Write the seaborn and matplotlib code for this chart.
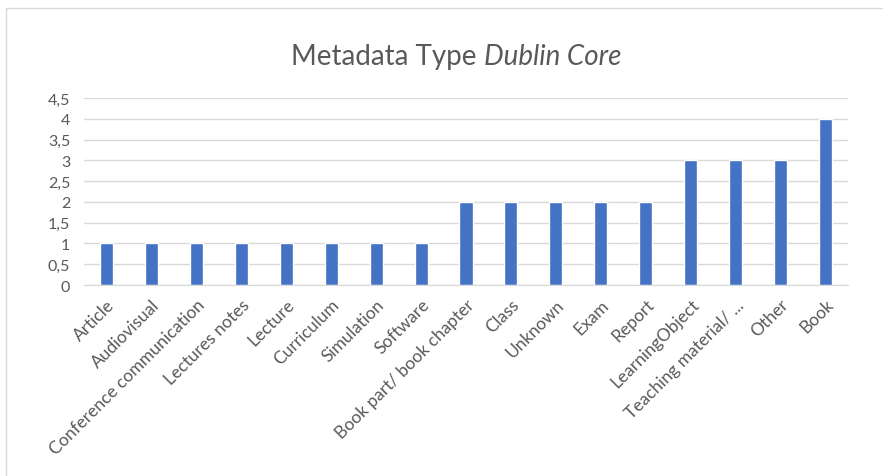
import matplotlib
matplotlib.use("Agg")
import matplotlib.pyplot as plt
import seaborn as sns
from matplotlib.patches import Rectangle

categories = [
    "Article", "Audiovisual", "Conference communication", "Lectures notes",
    "Lecture", "Curriculum", "Simulation", "Software", "Book part/ book chapter",
    "Class", "Unknown", "Exam", "Report", "LearningObject",
    "Teaching material/ ...", "Other", "Book",
]
values = [1, 1, 1, 1, 1, 1, 1, 1, 2, 2, 2, 2, 2, 3, 3, 3, 4]
y_ticks = [0, 0.5, 1, 1.5, 2, 2.5, 3, 3.5, 4, 4.5]
y_labels = ["0", "0,5", "1", "1,5", "2", "2,5", "3", "3,5", "4", "4,5"]

sns.set_style("white")
plt.rcParams["font.family"] = ["Lato", "DejaVu Sans"]

TEXT = "#595959"
GRID = "#D9D9D9"
BLUE = "#4472C4"

fig = plt.figure(figsize=(8.83, 4.77), dpi=100)
ax = fig.add_axes([84 / 883, 1 - 286 / 477, 764 / 883, 187 / 477])

sns.barplot(x=categories, y=values, color=BLUE, width=0.29,
            saturation=1, ax=ax)

ax.set_ylim(0, 4.5)
ax.set_xlim(-0.5, len(categories) - 0.5)
ax.set_yticks(y_ticks)
ax.set_yticklabels(y_labels, color=TEXT, fontsize=11.5)
ax.set_xticks(range(len(categories)))
ax.set_xticklabels(categories, rotation=45, ha="right", rotation_mode="anchor",
                   color=TEXT, fontsize=12.5)
ax.tick_params(axis="x", length=0, pad=8)
ax.tick_params(axis="y", length=0, pad=10)
ax.yaxis.grid(True, color=GRID, linewidth=1)
ax.set_axisbelow(True)
for side in ["top", "right", "left"]:
    ax.spines[side].set_visible(False)
ax.spines["bottom"].set_color(GRID)
ax.set_xlabel("")
ax.set_ylabel("")

# title: normal + italic part, centred as a whole
y_title = 1 - 57 / 477
t1 = fig.text(0, y_title, "Metadata Type ", fontsize=20, color=TEXT,
              ha="left", va="center")
t2 = fig.text(0, y_title, "Dublin Core", fontsize=20, color=TEXT,
              style="italic", ha="left", va="center")
fig.canvas.draw()
w1 = t1.get_window_extent().width
w2 = t2.get_window_extent().width
x0 = 456 - (w1 + w2) / 2
t1.set_x(x0 / 883)
t2.set_x((x0 + w1) / 883)

# chart border
fig.patches.append(Rectangle((6 / 883, -0.1), 1.2, 1.1 - 9 / 477,
                             transform=fig.transFigure, fill=False,
                             edgecolor="#D9D9D9", linewidth=1))

fig.savefig("out.png", dpi=100)
